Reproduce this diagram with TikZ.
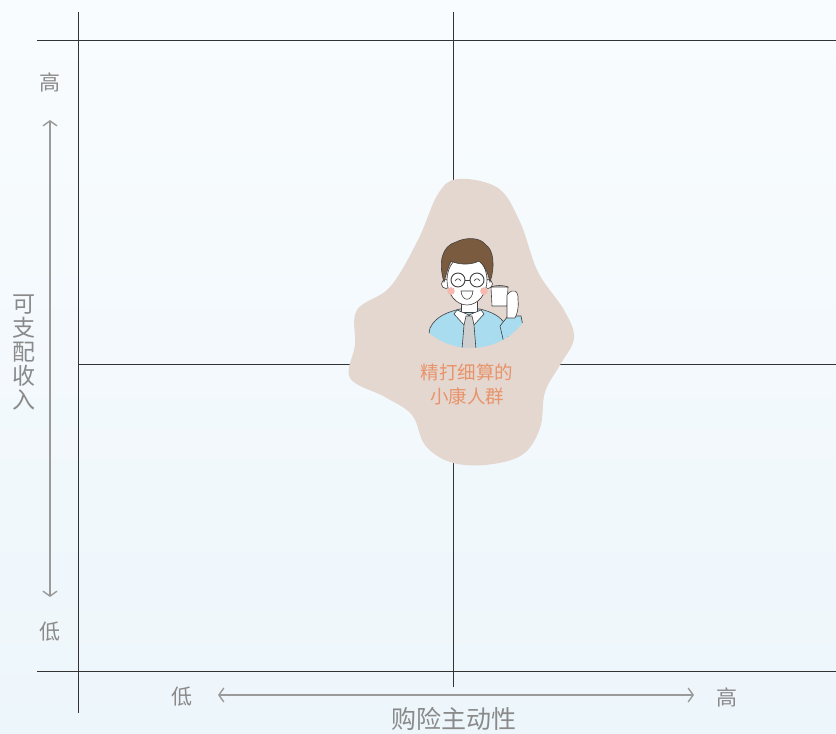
\documentclass[tikz,border=0pt]{standalone}
\usepackage{fontspec}
\newfontfamily\cjk{Noto Sans CJK SC}
\usetikzlibrary{arrows.meta}
\definecolor{gridc}{HTML}{333333}
\definecolor{axisc}{HTML}{9A9A9A}
\definecolor{labc}{HTML}{8A8A8A}
\definecolor{blobc}{HTML}{E4D7CF}
\definecolor{orangec}{HTML}{E8936A}
\definecolor{hairc}{HTML}{7B5B3F}
\definecolor{shirtc}{HTML}{A9DCEF}
\definecolor{skinc}{HTML}{FFFFFF}
\definecolor{cheekc}{HTML}{F6B9B0}
\definecolor{tiec}{HTML}{CFCFCF}
\definecolor{bgtop}{HTML}{F9FCFE}
\definecolor{bgbot}{HTML}{EDF6FB}
\tikzset{
  grid line/.style={draw=gridc, line width=0.85pt},
  axis arrow/.style={draw=axisc, line width=1.4pt, {Straight Barb[length=5pt,width=14pt]}-{Straight Barb[length=5pt,width=14pt]}},
  axis label/.style={text=labc, font=\cjk\fontsize{21}{23}\selectfont, inner sep=0pt},
  axis title/.style={text=labc, font=\cjk\fontsize{25}{27}\selectfont, inner sep=0pt},
  side title/.style={text=labc, font=\cjk\fontsize{23}{24}\selectfont, inner sep=0pt, align=center},
  tag/.style={text=orangec, font=\cjk\fontsize{18.5}{24}\selectfont, align=center, inner sep=0pt},
  outline/.style={draw=black!75, line width=0.6pt}
}
\begin{document}
\begin{tikzpicture}[x=1pt,y=-1pt]
  % canvas and soft background
  \useasboundingbox (0,0) rectangle (836,734);
  \shade[top color=bgtop, bottom color=bgbot] (0,0) rectangle (836,734);

  % quadrant grid
  \draw[grid line] (78,12) -- (78,713);
  \draw[grid line] (453,12) -- (453,687);
  \draw[grid line] (37,40) -- (836,40);
  \draw[grid line] (78,364) -- (836,364);
  \draw[grid line] (37,671) -- (836,671);

  % vertical axis: disposable income
  \node[axis label] (yhigh) at (50,82) {高};
  \node[axis label] (ylow) at (50,632) {低};
  \coordinate (ytop) at (50,120);
  \coordinate (ybot) at (50,597);
  \draw[axis arrow] (ybot) -- (ytop);
  \node[side title] (ytitle) at (24,352) {可\\支\\配\\收\\入};

  % horizontal axis: buying initiative
  \node[axis label] (xlow) at (182,697) {低};
  \node[axis label] (xhigh) at (727,697) {高};
  \coordinate (xleft) at (218,695);
  \coordinate (xright) at (694,695);
  \draw[axis arrow] (xleft) -- (xright);
  \node[axis title] (xtitle) at (454,719) {购险主动性};

  % beige blob behind the persona
  \fill[blobc] plot[smooth cycle, tension=0.6] coordinates {
    (458,179) (498,188) (520,222) (538,272) (564,310) (574,338)
    (560,365) (545,392) (540,428) (522,455) (485,465) (450,462)
    (425,445) (412,415) (385,397) (350,378) (355,345) (357,310)
    (390,287) (418,240) (438,194)};

  % persona, cut off by a circle at the bottom
  \begin{scope}
    \clip (471,282) circle (66);
    % shirt
    \fill[shirtc, outline] (424,362) -- (430,328) .. controls (436,316) and (448,312) .. (460,309)
      -- (480,309) .. controls (492,312) and (500,316) .. (505,324) -- (516,362) -- cycle;
    % raised arm
    \fill[shirtc, outline] (500,326) -- (508,316) -- (521,316) -- (527,346) -- (506,352) -- cycle;
    % neck
    \fill[skinc, outline] (461,300) -- (461,312) -- (477,312) -- (477,300) -- cycle;
    % collar
    \fill[white, outline] (457,310) -- (469,315) -- (464,325) -- (454,314) -- cycle;
    \fill[white, outline] (481,310) -- (469,315) -- (474,325) -- (484,314) -- cycle;
    % tie
    \fill[tiec, outline] (466,316) -- (472,316) -- (474,325) -- (477,362) -- (461,362) -- (464,325) -- cycle;
  \end{scope}
  % ears
  \fill[skinc, outline] (446,284) circle (4.5);
  \fill[skinc, outline] (488,284) circle (4.5);
  % face
  \fill[skinc, outline] (467,280) ellipse (20 and 25);
  % hair
  \fill[hairc, outline] (444,282) .. controls (438,262) and (442,246) .. (456,242)
    .. controls (466,237) and (480,237) .. (486,245)
    .. controls (494,250) and (495,268) .. (490,282)
    .. controls (488,272) and (484,265) .. (479,261)
    .. controls (470,266) and (456,264) .. (451,261)
    .. controls (448,267) and (446,275) .. (444,282) -- cycle;
  % glasses
  \draw[outline, line width=0.9pt] (458,280) circle (7);
  \draw[outline, line width=0.9pt] (477,280) circle (7);
  \draw[outline] (465,280) -- (470,280);
  % smiling eyes
  \draw[outline] (455,281) .. controls (457,278) and (459,278) .. (461,281);
  \draw[outline] (474,281) .. controls (476,278) and (478,278) .. (480,281);
  % cheeks
  \fill[cheekc] (451,291) circle (3.8);
  \fill[cheekc] (484,291) circle (3.8);
  % open mouth
  \fill[white, outline] (461,291) .. controls (462,302) and (472,302) .. (473,291) -- cycle;
  % cup and hand
  \fill[white, outline] (491,287) -- (508,287) -- (507,306) -- (492,306) -- cycle;
  \draw[outline] (491,287) .. controls (495,285) and (504,285) .. (508,287);
  \fill[white, outline] (507,295) .. controls (513,287) and (519,291) .. (518,300)
    .. controls (519,308) and (517,314) .. (515,318) -- (507,318) -- (507,306) -- cycle;

  % persona caption
  \node[tag] (persona) at (467,384) {精打细算的\\小康人群};
\end{tikzpicture}
\end{document}
